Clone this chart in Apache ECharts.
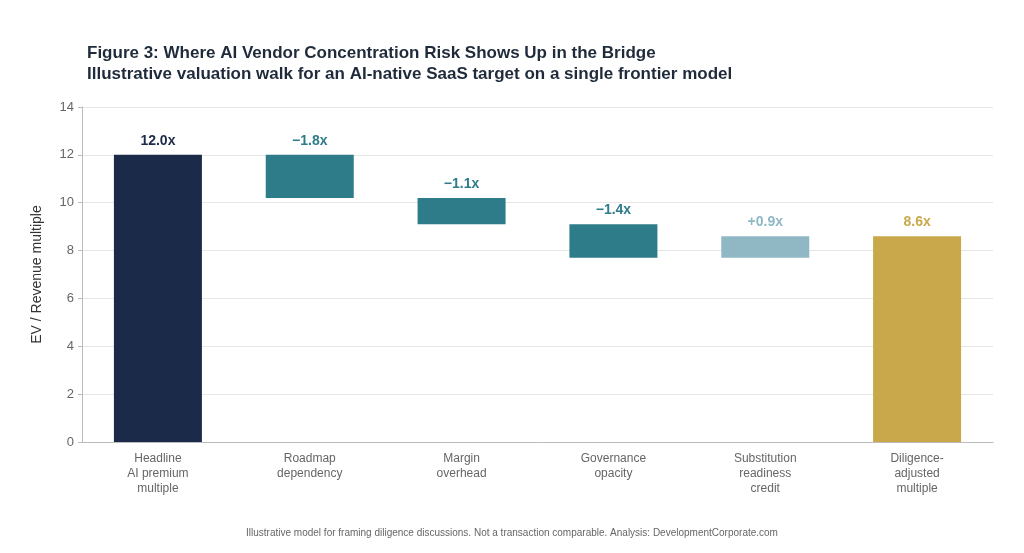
<!DOCTYPE html>
<html><head><meta charset="utf-8">
<script src="https://cdn.jsdelivr.net/npm/echarts@6/dist/echarts.min.js"></script>
<style>html,body{margin:0;padding:0;background:#fff}#c{width:1024px;height:553px}</style>
</head><body><div id="c"></div>
<script>
const categories = ['Headline\nAI premium\nmultiple', 'Roadmap\ndependency', 'Margin\noverhead', 'Governance\nopacity', 'Substitution\nreadiness\ncredit', 'Diligence-\nadjusted\nmultiple'];
const deltas = [12.0, -1.8, -1.1, -1.4, 0.9, 8.6];
const labels = ['12.0x', '\u22121.8x', '\u22121.1x', '\u22121.4x', '+0.9x', '8.6x'];
const colors = ['#1c2a4a', '#2e7b8a', '#2e7b8a', '#2e7b8a', '#8fb8c4', '#c9a84c'];
const labelColors = ['#1c2a4a', '#2e7b8a', '#2e7b8a', '#2e7b8a', '#8fb8c4', '#c9a84c'];

// waterfall bases
const base = [], size = [];
let level = 0;
deltas.forEach((d, i) => {
  if (i === 0 || i === deltas.length - 1) { base.push(0); size.push(d); level = d; }
  else if (d < 0) { base.push(+(level + d).toFixed(2)); size.push(-d); level = level + d; }
  else { base.push(+level.toFixed(2)); size.push(d); level = level + d; }
});

const chart = echarts.init(document.getElementById('c'));
chart.setOption({
  animation: false,
  title: {
    text: 'Figure 3: Where AI Vendor Concentration Risk Shows Up in the Bridge\nIllustrative valuation walk for an AI-native SaaS target on a single frontier model',
    left: 82, top: 38,
    textStyle: { fontFamily: 'Liberation Sans', fontSize: 17, fontWeight: 'bold', color: '#1f2a3a', lineHeight: 21 }
  },
  graphic: [{
    type: 'text', left: 'center', top: 528,
    style: { text: 'Illustrative model for framing diligence discussions. Not a transaction comparable. Analysis: DevelopmentCorporate.com', fontFamily: 'Liberation Sans', fontSize: 10, fill: '#666' }
  }],
  grid: { left: 82, right: 31, top: 107, bottom: 111 },
  xAxis: {
    type: 'category', data: categories,
    axisLine: { lineStyle: { color: '#bbb' } },
    axisTick: { show: false },
    axisLabel: { color: '#666', fontFamily: 'Liberation Sans', fontSize: 12, lineHeight: 15, margin: 9, interval: 0 }
  },
  yAxis: {
    type: 'value', min: 0, max: 14, interval: 2,
    name: 'EV / Revenue multiple', nameLocation: 'middle', nameGap: 38,
    nameTextStyle: { color: '#333', fontFamily: 'Liberation Sans', fontSize: 14 },
    axisLine: { show: true, lineStyle: { color: '#bbb' } },
    axisTick: { show: true, length: 4, lineStyle: { color: '#bbb' } },
    axisLabel: { color: '#666', fontFamily: 'Liberation Sans', fontSize: 13 },
    splitLine: { lineStyle: { color: '#e6e6e6' } }
  },
  series: [
    { type: 'bar', stack: 'w', data: base, itemStyle: { color: 'transparent' }, barWidth: 88, silent: true },
    {
      type: 'bar', stack: 'w', barWidth: 88,
      data: size.map((v, i) => ({ value: v, itemStyle: { color: colors[i] },
        label: { show: true, position: 'top', distance: 7, formatter: labels[i], color: labelColors[i], fontWeight: 'bold', fontSize: 14, fontFamily: 'Liberation Sans' } }))
    }
  ]
});
</script></body></html>
